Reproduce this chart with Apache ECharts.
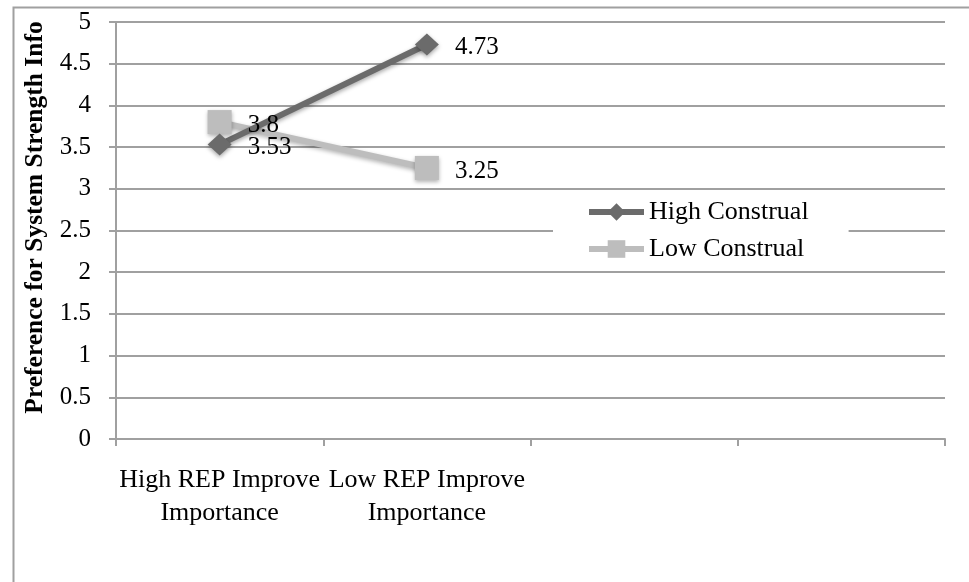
<!DOCTYPE html>
<html>
<head>
<meta charset="utf-8">
<script src="https://cdn.jsdelivr.net/npm/echarts@6/dist/echarts.min.js"></script>
<style>
  html, body { margin: 0; padding: 0; background: #fff; }
  #chart { width: 969px; height: 582px; }
</style>
</head>
<body>
<div id="chart"></div>
<script>
// Conditions along the x axis (two empty slots keep the plot's width)
const categories = ['High REP Improve\nImportance', 'Low REP Improve\nImportance', '', ''];
const highConstrual = [3.53, 4.73, null, null];
const lowConstrual = [3.8, 3.25, null, null];
const yTicks = { min: 0, max: 5, interval: 0.5 };

const serif = 'Liberation Serif, Times New Roman, serif';
const gridGray = '#a0a0a0';
const darkGray = '#6b6b6b';
const lightGray = '#bdbdbd';

const chart = echarts.init(document.getElementById('chart'), null, { renderer: 'canvas' });

const labelStyle = {
  show: true,
  position: 'right',
  distance: 16,
  offset: [0, 3],
  color: '#000',
  fontFamily: serif,
  fontSize: 25
};

chart.setOption({
  backgroundColor: '#fff',
  animation: false,
  graphic: [{
    type: 'rect',
    left: 11, top: 5,
    shape: { width: 1000, height: 1000 },
    style: { fill: 'none', stroke: '#a0a0a0', lineWidth: 2 },
    z: -10
  }],
  grid: { left: 116, right: 24, top: 22, bottom: 143 },
  legend: {
    left: 553,
    top: 191,
    orient: 'vertical',
    backgroundColor: '#fff',
    padding: [8, 40, 8, 33],
    itemWidth: 55,
    itemHeight: 22,
    itemGap: 11,
    lineStyle: { width: 6 },
    textStyle: { fontFamily: serif, fontSize: 26, color: '#000' },
    data: ['High Construal', 'Low Construal']
  },
  xAxis: {
    type: 'category',
    data: categories,
    boundaryGap: true,
    axisLine: { lineStyle: { color: gridGray, width: 2 } },
    axisTick: { show: true, interval: 0, length: 7, lineStyle: { color: gridGray, width: 2 } },
    axisLabel: {
      interval: 0,
      margin: 25,
      color: '#000',
      fontFamily: serif,
      fontSize: 26,
      lineHeight: 33
    }
  },
  yAxis: {
    type: 'value',
    min: yTicks.min,
    max: yTicks.max,
    interval: yTicks.interval,
    name: 'Preference for System Strength Info',
    nameLocation: 'middle',
    nameGap: 64,
    nameTextStyle: {
      fontFamily: serif, fontSize: 25.5, fontWeight: 'bold', color: '#000',
      padding: [0, 0, 0, 26]
    },
    axisLine: { show: true, lineStyle: { color: gridGray, width: 2 } },
    axisTick: { show: true, length: 7, lineStyle: { color: gridGray, width: 2 } },
    axisLabel: { margin: 25, color: '#000', fontFamily: serif, fontSize: 25 },
    splitLine: { lineStyle: { color: gridGray, width: 2 } }
  },
  // Low Construal is listed first so the darker line is drawn over it;
  // both share one z so every value label sits above both lines.
  series: [
    {
      name: 'Low Construal',
      type: 'line',
      data: lowConstrual,
      symbol: 'rect',
      symbolSize: 24,
      color: lightGray,
      lineStyle: { width: 6, color: lightGray, shadowBlur: 4, shadowColor: 'rgba(0,0,0,0.3)', shadowOffsetY: 2 },
      itemStyle: { color: lightGray, shadowBlur: 4, shadowColor: 'rgba(0,0,0,0.3)', shadowOffsetY: 2 },
      label: labelStyle,
      z: 2
    },
    {
      name: 'High Construal',
      type: 'line',
      data: highConstrual,
      symbol: 'diamond',
      symbolSize: [24, 22],
      color: darkGray,
      lineStyle: { width: 6, color: darkGray, shadowBlur: 4, shadowColor: 'rgba(0,0,0,0.35)', shadowOffsetY: 2 },
      itemStyle: { color: darkGray, shadowBlur: 4, shadowColor: 'rgba(0,0,0,0.35)', shadowOffsetY: 2 },
      label: labelStyle,
      z: 2
    }
  ]
});
</script>
</body>
</html>
